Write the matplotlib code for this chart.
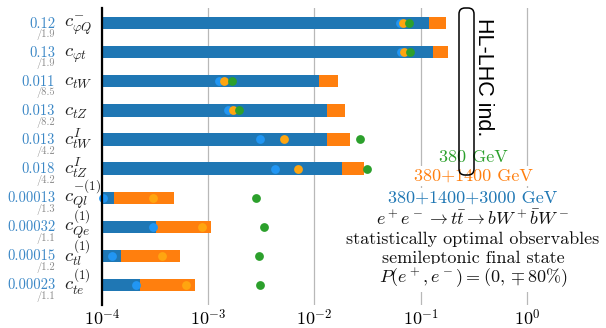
import numpy as np
import matplotlib
matplotlib.use('Agg')
import matplotlib.pyplot as plt
import matplotlib.patches as mpatches
from matplotlib.ticker import FixedLocator, FixedFormatter, NullLocator

plt.rcParams['mathtext.fontset'] = 'cm'

# Data
coeffs = [r'$c_{\varphi Q}^{-}$', r'$c_{\varphi t}$', r'$c_{tW}$', r'$c_{tZ}$',
          r'$c_{tW}^{I}$', r'$c_{tZ}^{I}$', r'$c_{Ql}^{-(1)}$', r'$c_{Qe}^{(1)}$',
          r'$c_{tl}^{(1)}$', r'$c_{te}^{(1)}$']
best_vals = ['0.12', '0.13', '0.011', '0.013', '0.013', '0.018',
             '0.00013', '0.00032', '0.00015', '0.00023']
ratios = ['1.9', '1.9', '8.5', '8.2', '4.2', '4.2', '1.3', '1.1', '1.2', '1.1']

bar_3000 = [0.12, 0.13, 0.011, 0.013, 0.013, 0.018, 0.00013, 0.00032, 0.00015, 0.00023]
bar_1400 = [0.175, 0.180, 0.0168, 0.0195, 0.0214, 0.029, 0.000478, 0.00107, 0.000541, 0.000754]
dot_3000 = [0.0634, 0.0658, 0.00127, 0.00155, 0.0031, 0.00429, 0.000102, 0.000303, 0.000123, 0.000211]
dot_1400 = [0.0676, 0.0692, 0.00142, 0.00172, 0.00521, 0.00706, 0.000303, 0.000873, 0.000366, 0.000616]
dot_380 = [0.0771, 0.0787, 0.00168, 0.00196, 0.0268, 0.031, 0.00284, 0.00332, 0.00298, 0.0031]

xmin, xmax = 1e-4, 5.56
rows = np.arange(len(coeffs))

fig = plt.figure(figsize=(6.06, 3.28), dpi=100)
ax = fig.add_axes([102/606, 23/328, 504/606, 297/328])
ax.set_xscale('log')

ax.barh(rows, np.array(bar_1400) - xmin, left=xmin, height=0.42, color='#ff7f0e', zorder=2)
ax.barh(rows, np.array(bar_3000) - xmin, left=xmin, height=0.42, color='#1f77b4', zorder=3)
ax.scatter(dot_3000, rows, s=40, color='#2196f3', zorder=4, clip_on=False, linewidths=0)
ax.scatter(dot_1400, rows, s=40, color='#ffa510', zorder=5, clip_on=False, linewidths=0)
ax.scatter(dot_380, rows, s=40, color='#2ca02c', zorder=6, clip_on=False, linewidths=0)

ax.set_xlim(xmin, xmax)
ax.set_ylim(9.69, -0.52)

ticks = [1e-4, 1e-3, 1e-2, 1e-1, 1e0]
ax.xaxis.set_major_locator(FixedLocator(ticks))
ax.xaxis.set_major_formatter(FixedFormatter([r'$10^{-4}$', r'$10^{-3}$', r'$10^{-2}$',
                                             r'$10^{-1}$', r'$10^{0}$']))
ax.xaxis.set_minor_locator(NullLocator())
ax.tick_params(axis='x', length=0, pad=3, labelsize=13)
ax.set_yticks([])
ax.grid(axis='x', color='#b8b8b8', lw=0.9, zorder=0)
ax.set_axisbelow(True)
for s in ['top', 'right', 'bottom']:
    ax.spines[s].set_visible(False)
ax.spines['left'].set_linewidth(1.6)
ax.spines['left'].set_zorder(7)

# row labels
tr = ax.get_yaxis_transform()
for i in rows:
    ax.text(-0.093, i + 0.02, best_vals[i], transform=tr, ha='right', va='center',
            fontsize=10.5, family='cmr10', color='#3a87c6')
    ax.text(-0.093, i + 0.40, '/' + ratios[i], transform=tr, ha='right', va='center',
            fontsize=7.5, family='cmr10', color='#8a8a8a')
    ax.text(-0.076, i + 0.17, coeffs[i], transform=tr, ha='left', va='baseline',
            fontsize=13.5, color='#222222')

# legend block, each line on white background
wbox = dict(boxstyle='square,pad=0.12', facecolor='white', edgecolor='none')
lines = [('380 GeV', '#2ca02c', 157, False),
         ('380+1400 GeV', '#ff7f0e', 176, False),
         ('380+1400+3000 GeV', '#1f77b4', 198, False),
         (r'$e^+e^-\to t\bar{t}\to bW^+\bar{b}W^-$', '#111111', 219, True),
         ('statistically optimal observables', '#111111', 239, False),
         ('semileptonic final state', '#111111', 258, False),
         (r'$P(e^+,e^-)=(0,\mp80\%)$', '#111111', 278, True)]
for txt, col, ypx, is_math in lines:
    kw = {} if is_math else {'family': 'cmr10'}
    fig.text(473/606, 1 - ypx/328, txt, ha='center', va='center', fontsize=13,
             color=col, zorder=9, bbox=wbox, **kw)

# HL-LHC box and label
box = mpatches.FancyBboxPatch((4.59, 1.53), 0.15, 1.67,
                              boxstyle='round,pad=0,rounding_size=0.06',
                              transform=fig.dpi_scale_trans, facecolor='none',
                              edgecolor='black', lw=1.1, zorder=10)
fig.patches.append(box)
fig.text(483/606, 1 - 77/328, 'HL-LHC ind.', rotation=-90, ha='center', va='center',
         fontsize=15.5, family='Liberation Sans', color='black', zorder=10)

fig.savefig('out.png', dpi=100)
